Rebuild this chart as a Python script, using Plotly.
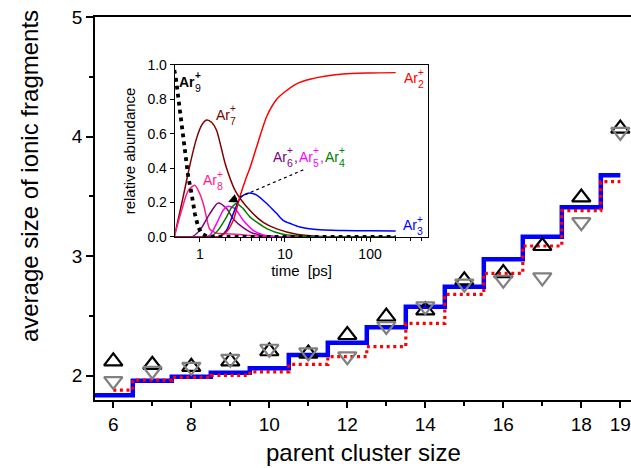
import math
import plotly.graph_objects as go

FONT = "Liberation Sans, Arial, sans-serif"

# ---------------- main panel: average fragment size vs parent size ----------------
cluster_size = [6, 7, 8, 9, 10, 11, 12, 13, 14, 15, 16, 17, 18, 19]
calc_full = [1.838, 1.958, 1.992, 2.025, 2.062, 2.173, 2.276, 2.405, 2.577, 2.745,
             2.974, 3.163, 3.409, 3.677]
calc_reduced = [1.880, 1.964, 1.987, 2.003, 2.033, 2.095, 2.160, 2.243, 2.438, 2.680,
                2.857, 3.085, 3.381, 3.623]
expt_up = [2.121, 2.092, 2.075, 2.120, 2.205, 2.186, 2.341, 2.495, 2.547, 2.798,
           2.859, 3.085, 3.491, 4.067]
expt_down = [1.956, 2.042, 2.075, 2.142, 2.226, 2.196, 2.163, 2.416, 2.581, 2.770,
             2.803, 2.823, 3.284, 4.039]

x_ticks = [6, 8, 10, 12, 14, 16, 18, 19]
x_minor = [7, 9, 11, 13, 15, 17]
y_ticks = [2, 3, 4, 5]
y_minor = [2.5, 3.5, 4.5]

# ---------------- inset: relative abundance of fragments vs time ----------------
t_ar9 = [0.5, 0.52, 0.556, 0.61, 0.667, 0.73, 0.8, 0.873, 0.955, 1.05, 1.2, 1.5, 3, 10, 50, 200]
v_ar9 = [0.97, 0.93, 0.815, 0.64, 0.505, 0.35, 0.25, 0.136, 0.058, 0.02, 0.005, 0.0, 0.0, 0.0, 0.0, 0.0]

t_ar8 = [0.5, 0.61, 0.73, 0.87, 1.0, 1.1, 1.2, 1.31, 1.6, 2.2, 3.0, 4.0, 8, 20, 200]
v_ar8 = [0.0, 0.155, 0.27, 0.30, 0.25, 0.19, 0.11, 0.045, 0.022, 0.018, 0.014, 0.008, 0.002, 0.0, 0.0]

t_ar7 = [0.5, 0.636, 0.763, 0.914, 1.05, 1.2, 1.38, 1.57, 2.0, 2.6, 3.87, 5.56, 8, 13.7, 23.6, 50, 200]
v_ar7 = [0.0, 0.233, 0.418, 0.573, 0.65, 0.68, 0.665, 0.62, 0.42, 0.27, 0.155, 0.085, 0.047, 0.016, 0.004, 0.0, 0.0]

t_ar6 = [0.5, 0.8, 1.0, 1.31, 1.64, 2.06, 2.47, 3.23, 4.2, 6.0, 10, 200]
v_ar6 = [0.0, 0.0, 0.04, 0.136, 0.198, 0.165, 0.105, 0.055, 0.022, 0.007, 0.0, 0.0]

t_ar5 = [0.5, 1.1, 1.31, 1.64, 1.88, 2.15, 2.58, 3.23, 4.24, 5.56, 8, 200]
v_ar5 = [0.0, 0.0, 0.01, 0.097, 0.155, 0.178, 0.165, 0.097, 0.039, 0.012, 0.002, 0.0]

t_ar4 = [0.5, 1.2, 1.4, 1.64, 2.06, 2.36, 2.7, 3.23, 3.87, 6.1, 9.5, 20, 200]
v_ar4 = [0.0, 0.0, 0.008, 0.04, 0.117, 0.171, 0.195, 0.165, 0.117, 0.049, 0.016, 0.002, 0.0]

t_ar3 = [0.5, 1.5, 1.72, 2.06, 2.47, 2.95, 3.3, 3.87, 4.6, 6.1, 8, 9.5, 12, 15, 23.5, 48, 100, 200]
v_ar3 = [0.0, 0.0, 0.005, 0.04, 0.136, 0.224, 0.245, 0.256, 0.245, 0.195, 0.136, 0.097, 0.075, 0.058,
         0.043, 0.038, 0.036, 0.035]

t_ar2 = [0.5, 1.5, 1.72, 2.06, 2.47, 2.95, 3.54, 3.87, 4.65, 6.1, 8, 9.5, 13.7, 19.7, 48, 100, 200]
v_ar2 = [0.0, 0.0, 0.005, 0.03, 0.097, 0.233, 0.35, 0.40, 0.524, 0.70, 0.80, 0.835, 0.89, 0.917, 0.947,
         0.953, 0.955]

inset_y_ticks = [0.0, 0.2, 0.4, 0.6, 0.8, 1.0]
inset_x_ticks = [1, 10, 100]
inset_x_minor = [2, 3, 4, 5, 6, 7, 8, 9, 20, 30, 40, 50, 60, 70, 80, 90, 200, 300, 400]

C_AR2 = "#ff0000"
C_AR3 = "#0000ff"
C_AR4 = "#008000"
C_AR5 = "#ff00ff"
C_AR6 = "#800080"
C_AR7 = "#800000"
C_AR8 = "#ff1a8c"

fig = go.Figure()

# calculated average sizes as staircases centred on each parent size
fig.add_trace(go.Scatter(
    x=[cluster_size[0] - 0.5] + cluster_size, y=[calc_full[0]] + calc_full,
    mode="lines", line=dict(color="#0000ff", width=4.5, shape="hvh"),
    hoverinfo="skip"))
fig.add_trace(go.Scatter(
    x=cluster_size, y=calc_reduced,
    mode="lines", line=dict(color="#ff0000", width=3.2, shape="hvh", dash="3px,3.6px"),
    hoverinfo="skip"))

# measured values
fig.add_trace(go.Scatter(
    x=cluster_size, y=expt_up, mode="markers",
    marker=dict(symbol="triangle-up-open", size=16, color="black", line=dict(width=2.2, color="black"))))
fig.add_trace(go.Scatter(
    x=cluster_size, y=expt_down, mode="markers",
    marker=dict(symbol="triangle-down-open", size=16, color="#808080",
                line=dict(width=2.2, color="#808080"))))

# inset curves
def curve(t, v, color, width=1.5, dash=None, shape="spline"):
    line = dict(color=color, width=width, shape=shape)
    if shape == "spline":
        line["smoothing"] = 0.7
    if dash:
        line["dash"] = dash
    fig.add_trace(go.Scatter(x=t, y=v, mode="lines", line=line, xaxis="x2", yaxis="y2",
                             hoverinfo="skip"))

curve(t_ar7, v_ar7, C_AR7)
curve(t_ar8, v_ar8, C_AR8)
curve(t_ar6, v_ar6, C_AR6)
curve(t_ar5, v_ar5, C_AR5)
curve(t_ar4, v_ar4, C_AR4)
curve(t_ar3, v_ar3, C_AR3)
curve(t_ar2, v_ar2, C_AR2)
curve(t_ar9, v_ar9, "black", width=3.8, dash="3.8px,4.2px", shape="linear")

# dotted pointer from the Ar6/Ar5/Ar4 label down to the peaks
fig.add_trace(go.Scatter(x=[16.4, 2.3], y=[0.39, 0.21], mode="lines",
                         line=dict(color="black", width=1.2, dash="dot"),
                         xaxis="x2", yaxis="y2", hoverinfo="skip"))
fig.add_annotation(xref="x2", yref="y2", x=math.log10(2.15), y=0.204, text="",
                   showarrow=True, arrowhead=2, arrowsize=1.4, arrowwidth=1.3,
                   arrowcolor="black", ax=9, ay=-3.8)


def species_label(t, v, n, color, bold=False, dx=0, comma=False):
    x = math.log10(t)
    common = dict(xref="x2", yref="y2", x=x, y=v, xanchor="left", yanchor="middle",
                  showarrow=False, borderpad=0)
    fig.add_annotation(text="<b>Ar</b>" if bold else "Ar",
                       font=dict(family=FONT, size=14, color=color), xshift=dx, **common)
    w = 16 if bold else 14.5
    fig.add_annotation(text="<b>+</b>" if bold else "+",
                       font=dict(family=FONT, size=10, color=color),
                       xshift=dx + w, yshift=6, **common)
    fig.add_annotation(text=str(n), font=dict(family=FONT, size=10.5, color=color),
                       xshift=dx + w, yshift=-6, **common)
    if comma:
        fig.add_annotation(text=",", font=dict(family=FONT, size=14, color=color),
                           xshift=dx + w + 6.5, yshift=0, **common)


species_label(0.551, 0.903, 9, "black", bold=True)
species_label(1.50, 0.709, 7, C_AR7)
species_label(1.047, 0.33, 8, C_AR8)
species_label(243, 0.922, 2, C_AR2)
species_label(235, 0.068, 3, C_AR3)
species_label(6.97, 0.466, 6, C_AR6, dx=0, comma=True)
species_label(6.97, 0.466, 5, C_AR5, dx=26, comma=True)
species_label(6.97, 0.466, 4, C_AR4, dx=52)

# axis titles of the main panel
fig.add_annotation(xref="paper", yref="paper", x=0.5, y=-0.136, xanchor="center", yanchor="middle",
                   text="parent cluster size", showarrow=False, font=dict(family=FONT, size=24))
fig.add_annotation(xref="paper", yref="paper", x=-0.121, y=0.585, xanchor="center", yanchor="middle",
                   text="average size of ionic fragments", textangle=-90, showarrow=False,
                   font=dict(family=FONT, size=24))

axis_common = dict(showline=True, linecolor="black", showgrid=False, zeroline=False,
                   ticks="outside", tickcolor="black")

fig.update_layout(
    width=631, height=468, autosize=False,
    margin=dict(l=95, r=0, t=17, b=68, pad=0),
    paper_bgcolor="white", plot_bgcolor="white",
    showlegend=False,
    font=dict(family=FONT, color="black"),
    xaxis=dict(
        range=[5.531, 19.274], linewidth=1.5, mirror=True,
        tickvals=x_ticks, ticktext=[str(v) for v in x_ticks],
        ticklen=6, tickwidth=1.5, tickfont=dict(size=19),
        minor=dict(tickvals=x_minor, ticks="outside", ticklen=4, tickwidth=1.5, tickcolor="black"),
        **axis_common),
    yaxis=dict(
        range=[1.7975, 5.0], linewidth=1.5,
        tickvals=y_ticks, ticktext=[str(v) for v in y_ticks],
        ticklen=7, tickwidth=1.5, tickfont=dict(size=19),
        minor=dict(tickvals=y_minor, ticks="outside", ticklen=4, tickwidth=1.5, tickcolor="black"),
        **axis_common),
    xaxis2=dict(
        domain=[0.149, 0.622], anchor="y2", type="log", range=[-0.294, 2.686],
        linewidth=1.3, mirror=True,
        tickvals=inset_x_ticks, ticktext=[str(v) for v in inset_x_ticks],
        ticklen=4, tickwidth=1.2, tickfont=dict(size=14),
        minor=dict(tickvals=inset_x_minor, ticks="outside", ticklen=2.5, tickwidth=1, tickcolor="black"),
        title=dict(text="time\u00a0\u00a0[ps]", font=dict(size=15), standoff=3),
        **axis_common),
    yaxis2=dict(
        domain=[0.4256, 0.875], anchor="x2", range=[0, 1],
        linewidth=1.3, mirror=True,
        tickvals=inset_y_ticks, tickformat=".1f",
        ticklen=4, tickwidth=1.2, tickfont=dict(size=14),
        title=dict(text="relative abundance", font=dict(size=15), standoff=8),
        **axis_common),
)

fig.write_html("out.html")
